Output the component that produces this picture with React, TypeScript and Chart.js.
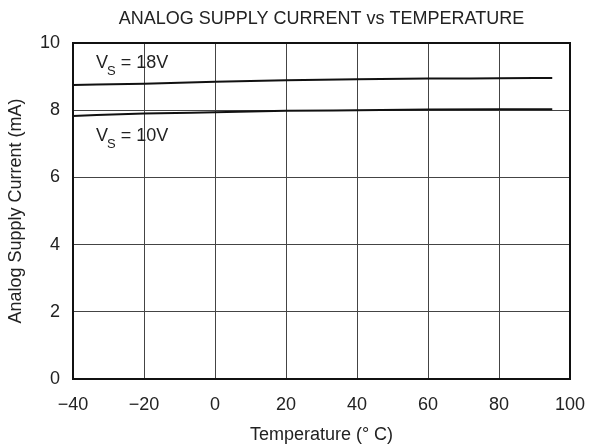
import { useEffect, useRef } from 'react';
import { Chart, registerables } from 'chart.js';

Chart.register(...registerables);

const temperatures = [-40, -20, 0, 20, 40, 60, 80, 95];
const supply18V = [8.75, 8.79, 8.85, 8.89, 8.92, 8.94, 8.95, 8.96];
const supply10V = [7.83, 7.9, 7.94, 7.98, 8.0, 8.02, 8.03, 8.03];

const xTickValues = [-40, -20, 0, 20, 40, 60, 80, 100];
const xTickLabels = ['\u221240', '\u221220', '0', '20', '40', '60', '80', '100'];
const yTickValues = [0, 2, 4, 6, 8, 10];
const yTickLabels = ['0', '2', '4', '6', '8', '10'];

const curveMain = ['V', 'V'];
const curveSub = ['S', 'S'];
const curveRest = [' = 18V', ' = 10V'];
const curveLabelX = [-33.5, -33.5];
const curveLabelY = [9.25, 7.08];

const titleText = 'ANALOG SUPPLY CURRENT vs TEMPERATURE';
const xTitle = 'Temperature (\u00B0 C)';
const yTitle = 'Analog Supply Current (mA)';

const FONT = '"Liberation Sans", Arial, Helvetica, sans-serif';
const TEXT = '#222';

const framePlugin = {
  id: 'frame',
  afterDatasetsDraw(chart: any) {
    const { ctx, chartArea } = chart;
    ctx.save();
    ctx.strokeStyle = '#111';
    ctx.lineWidth = 2;
    ctx.strokeRect(chartArea.left, chartArea.top, chartArea.right - chartArea.left, chartArea.bottom - chartArea.top);
    ctx.restore();
  },
};

const curveLabelPlugin = {
  id: 'curveLabels',
  afterDraw(chart: any) {
    const { ctx } = chart;
    const xs = chart.scales.x;
    const ys = chart.scales.y;
    ctx.save();
    ctx.fillStyle = TEXT;
    ctx.textBaseline = 'alphabetic';
    ctx.textAlign = 'left';
    for (let i = 0; i < curveMain.length; i++) {
      let px = xs.getPixelForValue(curveLabelX[i]);
      const py = ys.getPixelForValue(curveLabelY[i]);
      ctx.font = `18px ${FONT}`;
      ctx.fillText(curveMain[i], px, py);
      px += ctx.measureText(curveMain[i]).width - 1;
      ctx.font = `13px ${FONT}`;
      ctx.fillText(curveSub[i], px, py + 6.5);
      px += ctx.measureText(curveSub[i]).width;
      ctx.font = `18px ${FONT}`;
      ctx.fillText(curveRest[i], px, py);
    }
    ctx.restore();
  },
};

export default function App() {
  const canvasRef = useRef<HTMLCanvasElement | null>(null);

  useEffect(() => {
    if (!canvasRef.current) return;
    const chart = new Chart(canvasRef.current, {
      type: 'line',
      data: {
        datasets: [
          {
            label: 'VS = 18V',
            data: temperatures.map((t, i) => ({ x: t, y: supply18V[i] })),
            borderColor: '#111',
            borderWidth: 2,
            pointRadius: 0,
            fill: false,
            cubicInterpolationMode: 'monotone',
          },
          {
            label: 'VS = 10V',
            data: temperatures.map((t, i) => ({ x: t, y: supply10V[i] })),
            borderColor: '#111',
            borderWidth: 2,
            pointRadius: 0,
            fill: false,
            cubicInterpolationMode: 'monotone',
          },
        ],
      },
      options: {
        animation: false,
        responsive: false,
        devicePixelRatio: 1,
        layout: { padding: { left: 0, right: 20, top: 0, bottom: 0 } },
        plugins: {
          legend: { display: false },
          tooltip: { enabled: false },
          title: {
            display: true,
            text: titleText,
            fullSize: false,
            color: TEXT,
            font: { family: FONT, size: 18, weight: 'normal', lineHeight: 1.2 },
            padding: { top: 8, bottom: 13.4 },
          },
        },
        scales: {
          x: {
            type: 'linear',
            min: -40,
            max: 100,
            afterFit(scale: any) {
              scale.height = 66;
              scale.paddingRight = 0;
              scale.paddingLeft = 0;
            },
            afterBuildTicks(scale: any) {
              scale.ticks = xTickValues.map((v) => ({ value: v }));
            },
            ticks: {
              padding: 15,
              color: TEXT,
              font: { family: FONT, size: 18, lineHeight: 1.2 },
              maxRotation: 0,
              callback: (value: any) => {
                const i = xTickValues.indexOf(Number(value));
                return i >= 0 ? xTickLabels[i] : '';
              },
            },
            grid: { color: '#444', lineWidth: 1, drawTicks: false },
            border: { display: false },
            title: {
              display: true,
              text: xTitle,
              color: TEXT,
              font: { family: FONT, size: 18, lineHeight: 1.1 },
              padding: { top: 0, bottom: 0 },
            },
          },
          y: {
            type: 'linear',
            min: 0,
            max: 10,
            afterFit(scale: any) {
              scale.width = 73;
            },
            afterBuildTicks(scale: any) {
              scale.ticks = yTickValues.map((v) => ({ value: v }));
            },
            ticks: {
              padding: 13,
              color: TEXT,
              font: { family: FONT, size: 18, lineHeight: 1.2 },
              callback: (value: any) => {
                const i = yTickValues.indexOf(Number(value));
                return i >= 0 ? yTickLabels[i] : '';
              },
            },
            grid: { color: '#444', lineWidth: 1, drawTicks: false },
            border: { display: false },
            title: {
              display: true,
              text: yTitle,
              color: TEXT,
              font: { family: FONT, size: 18, lineHeight: 1.2 },
              padding: { top: 5, bottom: 0 },
            },
          },
        },
      },
      plugins: [framePlugin, curveLabelPlugin],
    } as any);
    return () => chart.destroy();
  }, []);

  return (
    <div style={{ position: 'absolute', left: 0, top: 0, width: 590, height: 445 }}>
      <canvas ref={canvasRef} width={590} height={445} style={{ display: 'block', width: 590, height: 445 }} />
    </div>
  );
}
